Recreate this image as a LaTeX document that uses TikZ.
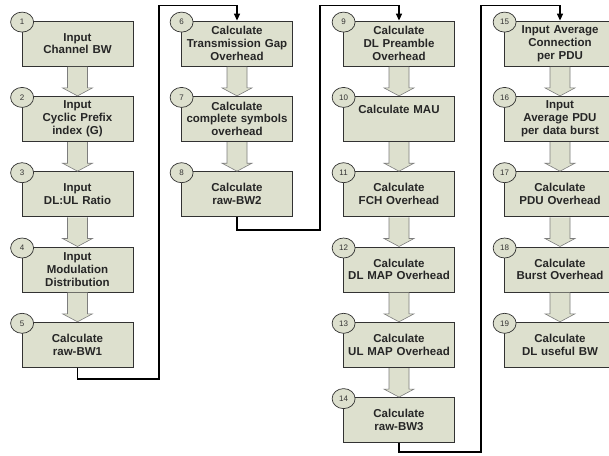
\documentclass[tikz,border=0pt]{standalone}
\usepackage{fontspec}
\setmainfont{Liberation Sans}
\usetikzlibrary{positioning,calc,shapes.geometric,arrows.meta}
\definecolor{boxfill}{RGB}{221,224,206}
\definecolor{boxline}{RGB}{50,50,50}
\definecolor{arrowline}{RGB}{125,125,125}
\tikzset{
  stepbox/.style={draw=boxline, fill=boxfill, line width=0.8pt,
    minimum width=111pt, minimum height=45pt, text width=108pt,
    align=center, inner sep=1pt, text=black!85,
    font=\bfseries\fontsize{11.5}{12.8}\selectfont},
  stepnum/.style={ellipse, draw=boxline, fill=boxfill, line width=0.7pt,
    minimum width=23pt, minimum height=20pt, inner sep=0pt, text=black!80,
    font=\fontsize{8}{9}\selectfont},
  fatarrow/.style={draw=arrowline, fill=boxfill, line width=0.6pt},
  link/.style={draw=black, line width=1.3pt, -{Triangle[length=7pt,width=6pt]}}
}
\newcommand{\blockarrow}[2]{%
  \draw[fatarrow] ($(#1.south)+(-10pt,-0.4pt)$) -- ($(#2.north)+(-10pt,8pt)$)
    -- ($(#2.north)+(-15pt,8pt)$) -- (#2.north) -- ($(#2.north)+(15pt,8pt)$)
    -- ($(#2.north)+(10pt,8pt)$) -- ($(#1.south)+(10pt,-0.4pt)$);}
\begin{document}
\begin{tikzpicture}[x=1pt, y=-1pt]
  \clip (0,0) rectangle (609,455);
  \fill[white] (0,0) rectangle (609,455);
  % first column
  \node[stepbox] (b1) at (77.5,43.5) {Input\\Channel BW};
  \node[stepbox, below=29.5pt of b1] (b2) {Input\\Cyclic Prefix\\index (G)};
  \node[stepbox, below=29.5pt of b2] (b3) {Input\\DL:UL Ratio};
  \node[stepbox, below=29.5pt of b3] (b4) {Input\\Modulation\\Distribution};
  \node[stepbox, below=29.5pt of b4] (b5) {Calculate\\raw-BW1};
  % second column
  \node[stepbox] (b6) at (237,43.5) {Calculate\\Transmission Gap\\Overhead};
  \node[stepbox, below=29.5pt of b6] (b7) {Calculate\\complete symbols\\overhead};
  \node[stepbox, below=29.5pt of b7] (b8) {Calculate\\raw-BW2};
  % third column
  \node[stepbox] (b9) at (399,43.5) {Calculate\\DL Preamble\\Overhead};
  \node[stepbox, below=29.5pt of b9] (b10) {Calculate MAU\\[6pt]\mbox{}};
  \node[stepbox, below=29.5pt of b10] (b11) {Calculate\\FCH Overhead};
  \node[stepbox, below=29.5pt of b11] (b12) {Calculate\\DL MAP Overhead};
  \node[stepbox, below=29.5pt of b12] (b13) {Calculate\\UL MAP Overhead};
  \node[stepbox, below=29.5pt of b13] (b14) {Calculate\\raw-BW3};
  % fourth column
  \node[stepbox] (b15) at (560,43.5) {Input Average\\Connection\\per PDU};
  \node[stepbox, below=29.5pt of b15] (b16) {Input\\Average PDU\\per data burst};
  \node[stepbox, below=29.5pt of b16] (b17) {Calculate\\PDU Overhead};
  \node[stepbox, below=29.5pt of b17] (b18) {Calculate\\Burst Overhead};
  \node[stepbox, below=29.5pt of b18] (b19) {Calculate\\DL useful BW};
  % step numbers
  \foreach \i in {1,...,19}
    \node[stepnum, xshift=0.5pt, yshift=-1.5pt] (n\i) at (b\i.north west) {\i};
  % arrows inside a column
  \foreach \a/\b in {1/2,2/3,3/4,4/5,6/7,7/8,9/10,10/11,11/12,12/13,13/14,15/16,16/17,17/18,18/19}
    \blockarrow{b\a}{b\b};
  % jumps to the next column
  \coordinate (t1) at (159,379);
  \coordinate (u1) at (159,5.5);
  \coordinate (t2) at (320,230);
  \coordinate (u2) at (320,5.5);
  \coordinate (t3) at (481,452);
  \coordinate (u3) at (481,5.5);
  \draw[link] (b5.south) |- (t1) -- (u1) -| (b6.north);
  \draw[link] (b8.south) |- (t2) -- (u2) -| (b9.north);
  \draw[link] (b14.south) |- (t3) -- (u3) -| (b15.north);
\end{tikzpicture}
\end{document}
